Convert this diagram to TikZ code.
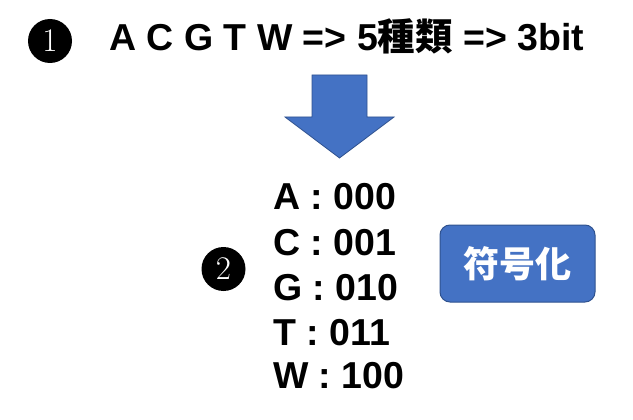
\documentclass[tikz,border=0pt]{standalone}
\usepackage{fontspec}
\setmainfont{Liberation Sans}
\newfontfamily\jpfont{Noto Sans CJK JP}
\newfontfamily\numfont{Latin Modern Roman}
\usetikzlibrary{positioning}
\definecolor{boxblue}{HTML}{4472C4}
\definecolor{edgeblue}{HTML}{2F528F}
\tikzset{
  numdot/.style={circle,fill=black,text=white,inner sep=0pt,minimum size=44pt,
    font=\numfont\fontsize{33}{36}\selectfont},
  codeline/.style={anchor=base west,inner sep=0pt,font=\fontsize{37.5}{42}\selectfont\bfseries},
  codebox/.style={draw=edgeblue,fill=boxblue,rounded corners=10pt,line width=1pt,
    minimum width=155pt,minimum height=77pt,text=white,
    font=\jpfont\fontsize{36}{40}\selectfont\bfseries}
}
\begin{document}
\begin{tikzpicture}[x=1pt,y=-1pt]
  \useasboundingbox (0,0) rectangle (633,420);
  % step 1
  \node[numdot] (one) at (50,41) {1};
  \node[anchor=base west,inner sep=0pt,font=\fontsize{37.5}{44}\selectfont\bfseries]
    (title) at (109,51) {A C G T W => 5{\jpfont 種類} => 3bit};
  % block arrow
  \draw[edgeblue,fill=boxblue,line width=0.8pt]
    (312,75) -- (367,75) -- (367,117) -- (394,117) -- (339.5,158)
    -- (285,117) -- (312,117) -- cycle;
  % step 2
  \node[numdot] (two) at (223.5,269) {2};
  \foreach \Y/\L in {210/{A : 000},255/{C : 001},300/{G : 010},
                     345/{T : 011},388/{W : 100}}{
    \node[codeline] at (273,\Y) {\L};
  }
  \node[codebox] (enc) at (517.5,263.5) {符号化};
\end{tikzpicture}
\end{document}
